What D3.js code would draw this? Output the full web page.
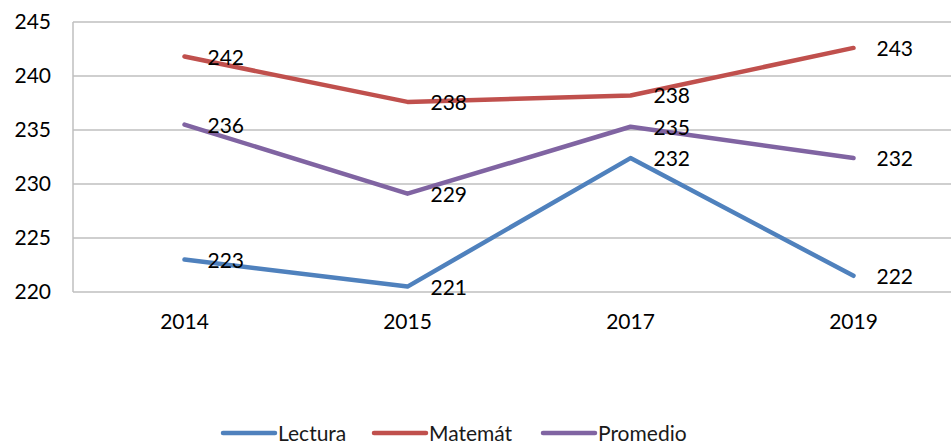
<!DOCTYPE html>
<html>
<head>
<meta charset="utf-8">
<script src="https://cdn.jsdelivr.net/npm/d3@7"></script>
<style>
  body { margin: 0; background: #fff; }
  svg { display: block; font-family: Lato, "Open Sans", sans-serif; }
</style>
</head>
<body>
<svg id="chart"></svg>
<script>
// chart data
const years = ["2014", "2015", "2017", "2019"];
const lectura = [223.0, 220.5, 232.4, 221.5];
const matemat = [241.8, 237.6, 238.2, 242.6];
const promedio = [235.5, 229.1, 235.3, 232.4];
const lecturaLabels = ["223", "221", "232", "222"];
const matematLabels = ["242", "238", "238", "243"];
const promedioLabels = ["236", "229", "235", "232"];
const yTicks = [220, 225, 230, 235, 240, 245];

const WIDTH = 951;
const HEIGHT = 446;
const PLOT = { LEFT: 73, RIGHT: 965, TOP: 22, BOTTOM: 292 };
const FONT = 21;

let series = [
  { name: "Lectura", values: lectura, labels: lecturaLabels, color: "#4F81BD" },
  { name: "Matemát", values: matemat, labels: matematLabels, color: "#C0504D" },
  { name: "Promedio", values: promedio, labels: promedioLabels, color: "#8064A2" }
];

let svg = d3.select("#chart")
  .attr("width", WIDTH)
  .attr("height", HEIGHT);

let xScale = d3.scaleBand()
  .domain(years)
  .range([PLOT.LEFT, PLOT.RIGHT]);
let yScale = d3.scaleLinear()
  .domain([220, 245])
  .range([PLOT.BOTTOM, PLOT.TOP]);

const xc = d => xScale(d) + xScale.bandwidth() / 2;

// gridlines
svg.append("g")
  .selectAll("line")
  .data(yTicks)
  .enter()
    .append("line")
    .attr("x1", PLOT.LEFT)
    .attr("x2", PLOT.RIGHT)
    .attr("y1", d => yScale(d))
    .attr("y2", d => yScale(d))
    .attr("stroke", "#BFBFBF")
    .attr("stroke-width", 1.5);

// left axis line
svg.append("line")
  .attr("x1", PLOT.LEFT).attr("x2", PLOT.LEFT)
  .attr("y1", PLOT.TOP).attr("y2", PLOT.BOTTOM)
  .attr("stroke", "#BFBFBF")
  .attr("stroke-width", 1.5);

// y axis labels
let yAxis = svg.append("g")
  .attr("transform", `translate(${PLOT.LEFT}, 0)`)
  .call(d3.axisLeft(yScale).tickValues(yTicks).tickSize(0).tickPadding(22));
yAxis.select(".domain").remove();
yAxis.selectAll("text")
  .attr("font-size", FONT)
  .attr("font-family", "Lato, 'Open Sans', sans-serif")
  .attr("fill", "#000");

// x axis labels
let xAxis = svg.append("g")
  .attr("transform", `translate(0, ${PLOT.BOTTOM})`)
  .call(d3.axisBottom(xScale).tickSize(0).tickPadding(22));
xAxis.select(".domain").remove();
xAxis.selectAll("text")
  .attr("font-size", FONT)
  .attr("font-family", "Lato, 'Open Sans', sans-serif")
  .attr("fill", "#000");

// lines
let line = d3.line()
  .x((d, i) => xc(years[i]))
  .y(d => yScale(d));

series.forEach(function(s) {
  svg.append("path")
    .datum(s.values)
    .attr("d", line)
    .attr("fill", "none")
    .attr("stroke", s.color)
    .attr("stroke-width", 4.5)
    .attr("stroke-linejoin", "round")
    .attr("stroke-linecap", "round");
});

// data labels
series.forEach(function(s) {
  svg.append("g")
    .selectAll("text")
    .data(s.values)
    .enter()
      .append("text")
      .attr("x", (d, i) => xc(years[i]) + 23)
      .attr("y", d => yScale(d))
      .attr("dy", "0.38em")
      .attr("font-size", FONT)
      .attr("fill", "#000")
      .text((d, i) => s.labels[i]);
});

// legend
const legendX = [223, 374, 543];
let legend = svg.append("g")
  .selectAll("g")
  .data(series)
  .enter()
    .append("g")
    .attr("transform", (d, i) => `translate(${legendX[i]}, 433)`);

legend.append("line")
  .attr("x1", 0).attr("x2", 52)
  .attr("stroke", d => d.color)
  .attr("stroke-width", 4.5)
  .attr("stroke-linecap", "round");

legend.append("text")
  .attr("x", 55)
  .attr("dy", "0.36em")
  .attr("font-size", FONT)
  .attr("fill", "#1a1a1a")
  .text(d => d.name);
</script>
</body>
</html>
